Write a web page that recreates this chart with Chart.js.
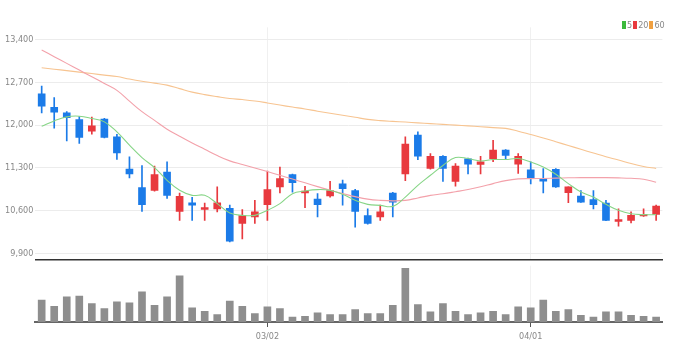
<!DOCTYPE html>
<html>
<head>
<meta charset="utf-8">
<script src="https://cdn.jsdelivr.net/npm/chart.js@4.4.1/dist/chart.umd.min.js"></script>
<style>
  body { margin: 0; background: #fff; }
  #wrap { position: relative; width: 677px; height: 362px; }
  canvas { position: absolute; left: 0; }
  #legend { position: absolute; left: 621px; top: 20px; font: 9px 'Liberation Sans Narrow', 'DejaVu Sans Condensed', sans-serif; color: #888; white-space: nowrap; }
  #legend span.box { display: inline-block; width: 4px; height: 8px; vertical-align: -1px; margin: 0 1px 0 1px; }
</style>
</head>
<body>
<div id="wrap">
  <canvas id="priceChart" width="677" height="267" style="top:0"></canvas>
  <canvas id="volChart" width="677" height="100" style="top:262px"></canvas>
  <div id="legend"></div>
</div>
<script>
const dates = ['02/03','02/04','02/07','02/08','02/09','02/10','02/11','02/14','02/15','02/16',
  '02/17','02/18','02/21','02/22','02/23','02/24','02/25','02/28','03/02','03/03',
  '03/04','03/07','03/08','03/10','03/11','03/14','03/15','03/16','03/17','03/18',
  '03/21','03/22','03/23','03/24','03/25','03/28','03/29','03/30','03/31','04/01',
  '04/04','04/05','04/06','04/07','04/08','04/11','04/12','04/13','04/14','04/15'];
const tickDates = ['03/02', '04/01'];
const yTicks = [9900, 10600, 11300, 12000, 12700, 13400];

const opens = [12510,12290,12200,12090,11900,12100,11810,11280,10980,10930,
  11230,10590,10730,10620,10630,10640,10390,10500,10700,10990,
  11190,10890,10790,10840,11040,10930,10520,10500,10890,11200,
  11835,11290,11490,11080,11450,11355,11450,11590,11360,11270,
  11125,11275,10895,10840,10780,10725,10425,10440,10515,10540];
const highs = [12640,12450,12220,12140,12130,12110,11850,11480,11340,11330,
  11400,10890,10820,10725,10990,10690,10620,10770,11250,11315,
  11200,11000,10880,11080,11100,10950,10630,10690,10900,11810,
  11890,11535,11500,11370,11460,11490,11750,11600,11535,11400,
  11290,11290,10990,10930,10930,10770,10630,10580,10630,10690];
const lows = [12200,11950,11740,11700,11850,11790,11440,11135,10590,10920,
  10800,10440,10440,10440,10580,10090,10140,10390,10440,10890,
  10905,10650,10500,10820,10690,10330,10380,10440,10500,11090,
  11435,11280,11080,11000,11200,11200,11400,11450,11210,11040,
  10890,10980,10730,10735,10630,10435,10345,10400,10505,10440];
const closes = [12310,12210,12120,11800,11990,11800,11545,11200,10700,11190,
  10850,10835,10690,10650,10730,10100,10520,10580,10945,11125,
  11060,10920,10700,10930,10960,10590,10390,10580,10740,11690,
  11490,11490,11290,11330,11360,11400,11590,11505,11490,11140,
  11085,10990,10990,10740,10700,10440,10455,10525,10540,10675];
const volumes = [217000,157000,250000,257000,183000,133000,200000,190000,300000,167000,
  250000,460000,140000,107000,73000,207000,157000,83000,150000,133000,
  50000,57000,90000,73000,73000,123000,83000,83000,167000,533000,
  173000,100000,183000,107000,73000,90000,107000,73000,150000,140000,
  217000,107000,123000,67000,50000,100000,100000,67000,57000,50000];

const ma5 = [11982,12069,12135,12146,12108,12053,11889,11671,11469,11305,
  11097,10933,10851,10851,10715,10561,10524,10524,10606,10715,
  10879,10922,10945,10933,10868,10770,10704,10687,10671,10823,
  11015,11179,11340,11469,11453,11414,11437,11437,11453,11397,
  11315,11196,11043,10906,10823,10704,10606,10551,10535,10535];
const ma20 = [13228,13120,13010,12900,12792,12682,12569,12392,12220,12077,
  11933,11818,11707,11605,11502,11415,11356,11299,11240,11179,
  11118,11056,10994,10933,10881,10830,10789,10769,10761,10769,
  10809,10851,10876,10910,10946,10991,11043,11092,11120,11125,
  11127,11133,11138,11141,11141,11141,11137,11130,11114,11065];
const ma60 = [12938,12915,12892,12867,12843,12818,12795,12753,12717,12687,
  12654,12597,12540,12499,12466,12436,12418,12395,12363,12328,
  12295,12264,12228,12195,12161,12128,12094,12074,12061,12050,
  12036,12025,12012,11999,11987,11974,11959,11946,11900,11845,
  11790,11728,11666,11605,11543,11482,11430,11371,11323,11291];

const maLines = [
  { label: '5', data: ma5, color: '#86d586', box: '#3cb93c' },
  { label: '20', data: ma20, color: '#f3a1aa', box: '#e8393e' },
  { label: '60', data: ma60, color: '#f7c491', box: '#f0a040' }
];

const UP = '#e8393e';
const DOWN = '#1b7be8';
const FONT = "'Liberation Sans Narrow', 'DejaVu Sans Condensed', sans-serif";
const AREA_LEFT = 35.4;
const AREA_RIGHT = 14.6;

const candleColors = opens.map((o, i) => closes[i] >= o ? UP : DOWN);
const bodies = opens.map((o, i) => [o, closes[i]]);
const wicks = lows.map((l, i) => [l, highs[i]]);

function isTickDate(i) {
  return tickDates.includes(dates[i]);
}

function makeLegend() {
  const el = document.getElementById('legend');
  el.innerHTML = maLines.map(m =>
    `<span class="box" style="background:${m.box}"></span>${m.label}`
  ).join('');
}

function makePriceChart() {
  const ctx = document.getElementById('priceChart');
  const lineSets = maLines.map(m => ({
    type: 'line',
    label: m.label,
    data: m.data,
    borderColor: m.color,
    borderWidth: 1.1,
    pointRadius: 0,
    tension: 0.4,
    order: 0
  }));

  new Chart(ctx, {
    type: 'bar',
    data: {
      labels: dates,
      datasets: [
        ...lineSets,
        {
          label: 'wick',
          data: wicks,
          backgroundColor: candleColors,
          barThickness: 1,
          grouped: false,
          order: 2
        },
        {
          label: 'body',
          data: bodies,
          backgroundColor: candleColors,
          barThickness: 7,
          minBarLength: 1,
          grouped: false,
          order: 1
        }
      ]
    },
    options: {
      responsive: false,
      animation: false,
      layout: { padding: { top: 27.3, right: AREA_RIGHT, bottom: 3, left: 0 } },
      plugins: { legend: { display: false }, tooltip: { enabled: false } },
      scales: {
        x: {
          afterFit: s => { s.height = 0; },
          ticks: { display: false, autoSkip: false },
          grid: {
            offset: false,
            drawTicks: false,
            color: c => isTickDate(c.index) ? 'rgba(0,0,0,0.06)' : 'transparent'
          },
          border: { color: '#333', width: 1.5 }
        },
        y: {
          min: 9800,
          max: 13600,
          afterBuildTicks: s => { s.ticks = yTicks.map(v => ({ value: v })); },
          afterFit: s => { s.width = AREA_LEFT; },
          ticks: {
            padding: 2,
            color: '#888',
            font: { family: FONT, size: 9 },
            callback: v => v.toLocaleString('en-US')
          },
          grid: { color: '#ececec', drawTicks: false },
          border: { display: false }
        }
      }
    }
  });
}

function makeVolumeChart() {
  const ctx = document.getElementById('volChart');
  new Chart(ctx, {
    type: 'bar',
    data: {
      labels: dates,
      datasets: [{
        label: 'volume',
        data: volumes,
        backgroundColor: '#8e8e8e',
        barThickness: 7
      }]
    },
    options: {
      responsive: false,
      animation: false,
      layout: { padding: { top: 3.7, right: AREA_RIGHT, bottom: 0, left: AREA_LEFT } },
      plugins: { legend: { display: false }, tooltip: { enabled: false } },
      scales: {
        x: {
          afterFit: s => { s.height = 40; },
          ticks: {
            autoSkip: false,
            maxRotation: 0,
            padding: 4,
            color: '#888',
            font: { family: FONT, size: 9 },
            callback: (v, i) => isTickDate(i) ? dates[i] : ''
          },
          grid: {
            offset: false,
            tickLength: 5,
            tickColor: c => isTickDate(c.index) ? '#555' : 'transparent',
            color: c => isTickDate(c.index) ? 'rgba(0,0,0,0.05)' : 'transparent'
          },
          border: { color: '#666', width: 2 }
        },
        y: {
          display: false,
          min: 0,
          max: 560000
        }
      }
    }
  });
}

function init() {
  makeLegend();
  makePriceChart();
  makeVolumeChart();
}

init();
</script>
</body>
</html>
